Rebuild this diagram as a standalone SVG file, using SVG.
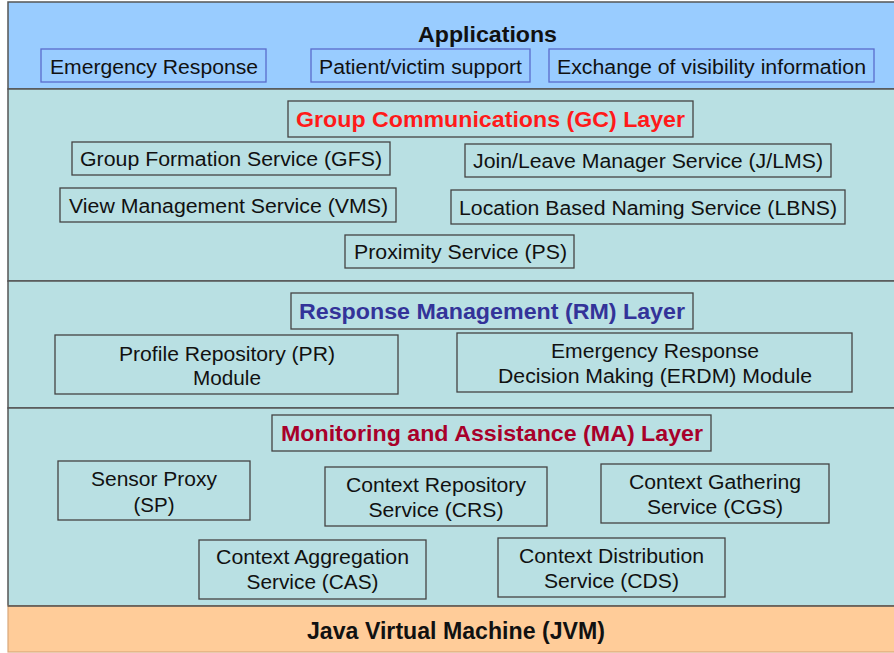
<svg xmlns="http://www.w3.org/2000/svg" width="894" height="653" viewBox="0 0 894 653">
<style>
text{font-family:"Liberation Sans",Arial,sans-serif;font-size:20px;fill:#111;text-anchor:middle}
.title{font-weight:bold;font-size:21.5px}
.box{fill:#b9e0e3;stroke:#444;stroke-width:1.3}
.abox{fill:#99ccff;stroke:#5a6ccc;stroke-width:1.3}
.band{stroke:#555;stroke-width:1.5}
</style>
<rect width="894" height="653" fill="#ffffff"/>
<g id="layers">
<rect class="band" x="8" y="2" width="900" height="87" fill="#99ccff"/>
<rect class="band" x="8" y="89" width="900" height="192" fill="#b9e0e3"/>
<rect class="band" x="8" y="281" width="900" height="127" fill="#b9e0e3"/>
<rect class="band" x="8" y="408" width="900" height="198" fill="#b9e0e3"/>
<rect x="8" y="606" width="900" height="46" fill="#ffcc99" stroke="#d9a77a" stroke-width="1.2"/>
<line x1="8" y1="606" x2="894" y2="606" stroke="#555" stroke-width="1.5"/>
</g>
<g id="applications">
<text class="title" x="487.5" y="42" textLength="139" lengthAdjust="spacingAndGlyphs">Applications</text>
</g>
<g id="app-er"><rect class="abox" x="41" y="49" width="225" height="33"/><text x="154" y="74" textLength="208" lengthAdjust="spacingAndGlyphs">Emergency Response</text></g>
<g id="app-pvs"><rect class="abox" x="311" y="49" width="219" height="33"/><text x="420.5" y="74" textLength="203" lengthAdjust="spacingAndGlyphs">Patient/victim support</text></g>
<g id="app-evi"><rect class="abox" x="549" y="49" width="325" height="33"/><text x="711.5" y="74" textLength="309" lengthAdjust="spacingAndGlyphs">Exchange of visibility information</text></g>

<g id="gc-title"><rect class="box" x="288" y="101" width="405" height="36"/><text class="title" x="490.5" y="127" style="fill:#ff1a1a" textLength="389" lengthAdjust="spacingAndGlyphs">Group Communications (GC) Layer</text></g>
<g id="gfs"><rect class="box" x="72" y="142" width="318" height="33"/><text x="231" y="166" textLength="302" lengthAdjust="spacingAndGlyphs">Group Formation Service (GFS)</text></g>
<g id="jlms"><rect class="box" x="465" y="144" width="366" height="33"/><text x="648" y="168" textLength="350" lengthAdjust="spacingAndGlyphs">Join/Leave Manager Service (J/LMS)</text></g>
<g id="vms"><rect class="box" x="60" y="188" width="336" height="34"/><text x="228.5" y="213" textLength="319" lengthAdjust="spacingAndGlyphs">View Management Service (VMS)</text></g>
<g id="lbns"><rect class="box" x="451" y="190" width="394" height="34"/><text x="648" y="215" textLength="378" lengthAdjust="spacingAndGlyphs">Location Based Naming Service (LBNS)</text></g>
<g id="ps"><rect class="box" x="345" y="235" width="229" height="33"/><text x="460.5" y="259" textLength="213" lengthAdjust="spacingAndGlyphs">Proximity Service (PS)</text></g>

<g id="rm-title"><rect class="box" x="291" y="293" width="402" height="36"/><text class="title" x="492" y="319" style="fill:#333399" textLength="386" lengthAdjust="spacingAndGlyphs">Response Management (RM) Layer</text></g>
<g id="pr"><rect class="box" x="55" y="335" width="343" height="59"/><text x="227" y="361" textLength="216" lengthAdjust="spacingAndGlyphs">Profile Repository (PR)</text><text x="227" y="385" textLength="68" lengthAdjust="spacingAndGlyphs">Module</text></g>
<g id="erdm"><rect class="box" x="457" y="333" width="395" height="59"/><text x="655" y="358" textLength="208" lengthAdjust="spacingAndGlyphs">Emergency Response</text><text x="655" y="383" textLength="314" lengthAdjust="spacingAndGlyphs">Decision Making (ERDM) Module</text></g>

<g id="ma-title"><rect class="box" x="272" y="415" width="439" height="36"/><text class="title" x="492" y="441" style="fill:#a8002a" textLength="422" lengthAdjust="spacingAndGlyphs">Monitoring and Assistance (MA) Layer</text></g>
<g id="sp"><rect class="box" x="58" y="461" width="192" height="59"/><text x="154" y="486" textLength="126" lengthAdjust="spacingAndGlyphs">Sensor Proxy</text><text x="154" y="512" textLength="41" lengthAdjust="spacingAndGlyphs">(SP)</text></g>
<g id="crs"><rect class="box" x="325" y="467" width="222" height="59"/><text x="436" y="492" textLength="180" lengthAdjust="spacingAndGlyphs">Context Repository</text><text x="436" y="517" textLength="135" lengthAdjust="spacingAndGlyphs">Service (CRS)</text></g>
<g id="cgs"><rect class="box" x="601" y="464" width="228" height="59"/><text x="715" y="489" textLength="172" lengthAdjust="spacingAndGlyphs">Context Gathering</text><text x="715" y="514" textLength="136" lengthAdjust="spacingAndGlyphs">Service (CGS)</text></g>
<g id="cas"><rect class="box" x="199" y="540" width="227" height="59"/><text x="312.5" y="564" textLength="193" lengthAdjust="spacingAndGlyphs">Context Aggregation</text><text x="312.5" y="589" textLength="132" lengthAdjust="spacingAndGlyphs">Service (CAS)</text></g>
<g id="cds"><rect class="box" x="498" y="538" width="227" height="59"/><text x="611.5" y="563" textLength="185" lengthAdjust="spacingAndGlyphs">Context Distribution</text><text x="611.5" y="588" textLength="135" lengthAdjust="spacingAndGlyphs">Service (CDS)</text></g>

<g id="jvm"><text class="title" x="456" y="639" style="font-size:23px" textLength="298" lengthAdjust="spacingAndGlyphs">Java Virtual Machine (JVM)</text></g>
</svg>
